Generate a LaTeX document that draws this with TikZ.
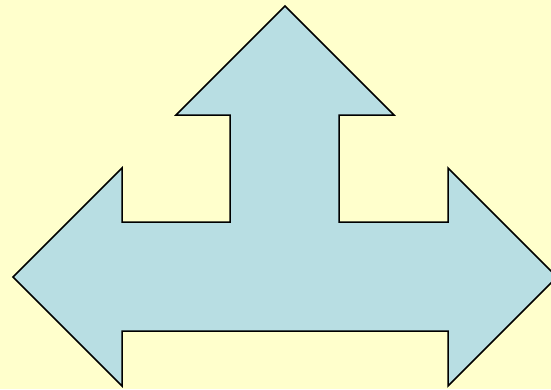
\documentclass[tikz,border=0pt]{standalone}
\usepackage{xcolor}
\usepackage{tikz}
\definecolor{paleyellow}{RGB}{255,255,204}
\definecolor{arrowblue}{RGB}{184,222,227}
\tikzset{
  arrowshape/.style ={draw=black, fill=arrowblue, line width=1.5pt, line join=miter},
}

\begin{document}
\begin{tikzpicture}[x=1pt,y=-1pt]
% ---------- background ----------
\fill[paleyellow] (0,0) rectangle (551,389);
\useasboundingbox (0,0) rectangle (551,389);
\clip (0,0) rectangle (551,389);

% ---------- three-way arrow ----------
\draw[arrowshape] (285,6) -- (394,115) -- (339,115) -- (339,222)
  -- (448,222) -- (448,168) -- (557,277) -- (448,386) -- (448,331)
  -- (122,331) -- (122,386) -- (13,277) -- (122,168) -- (122,222)
  -- (230,222) -- (230,115) -- (176,115) -- cycle;
\end{tikzpicture}
\end{document}
